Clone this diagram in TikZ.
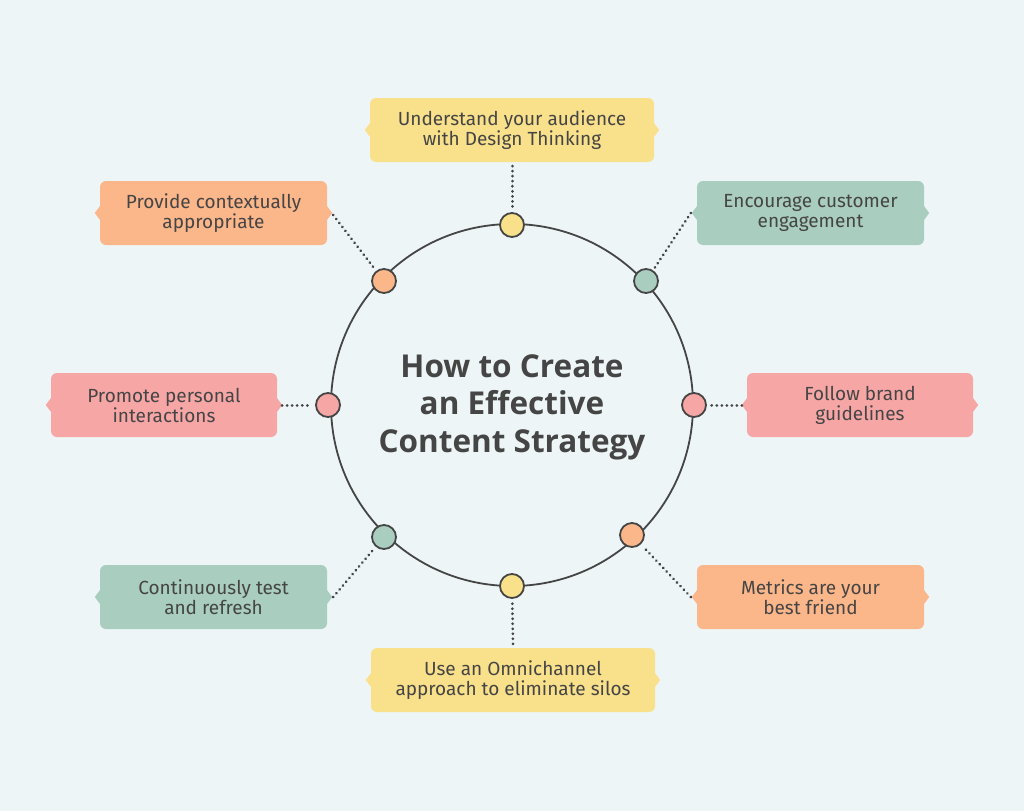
\documentclass[tikz,border=0pt]{standalone}
\usepackage{fontspec}
\setmainfont{Fira Sans}
\newfontfamily\titlefont{Open Sans}
\usetikzlibrary{calc}
\definecolor{bg}{HTML}{EDF5F6}
\definecolor{ink}{HTML}{454545}
\definecolor{cyel}{HTML}{F9E08B}
\definecolor{cora}{HTML}{FBB68A}
\definecolor{cgrn}{HTML}{A9CDBF}
\definecolor{cpnk}{HTML}{F7A6A6}
\tikzset{
  card/.style={fill=#1, rounded corners=6pt, minimum height=64pt, inner sep=0pt,
    align=center, text=ink, font=\fontsize{19}{20}\selectfont},
  dot/.style={circle, fill=#1, draw=ink, line width=1.8pt, minimum size=24pt, inner sep=0pt},
  link/.style={ink, line width=3pt, dash pattern=on 0.01pt off 5pt, line cap=round, shorten >=3pt},
}
\newcommand{\notches}[2]{%
  \fill[#2] ($(#1.west)+(1,-8)$) -- ++(-6,8) -- ++(6,8) -- cycle;
  \fill[#2] ($(#1.east)+(-1,-8)$) -- ++(6,8) -- ++(-6,8) -- cycle;}
\begin{document}
\begin{tikzpicture}[x=1pt,y=-1pt]
\fill[bg] (0,0) rectangle (1024,811);
\useasboundingbox (0,0) rectangle (1024,811);
% main circle
\node[circle, draw=ink, line width=1.8pt, minimum size=362pt, inner sep=0pt] (main) at (512,405) {};
\node[align=center, text=ink, font=\titlefont\bfseries\fontsize{31.5}{37.5}\selectfont] (title) at (512,407)
  {How to Create\\an Effective\\Content Strategy};
% cards
\node[card=cyel, minimum width=284pt] (t)  at (512,130) {Understand your audience\\with Design Thinking};
\node[card=cora, minimum width=227pt] (nw) at (213.5,213) {Provide contextually\\appropriate};
\node[card=cgrn, minimum width=227pt] (ne) at (810.5,213) {Encourage customer\\engagement};
\node[card=cpnk, minimum width=226pt] (w)  at (164,405) {Promote personal\\interactions};
\node[card=cpnk, minimum width=226pt] (e)  at (860,405) {Follow brand\\guidelines};
\node[card=cgrn, minimum width=227pt] (sw) at (213.5,597) {Continuously test\\and refresh};
\node[card=cora, minimum width=227pt] (se) at (810.5,597) {Metrics are your\\best friend};
\node[card=cyel, minimum width=284pt] (b)  at (513,680) {Use an Omnichannel\\approach to eliminate silos};
\notches{t}{cyel}\notches{nw}{cora}\notches{ne}{cgrn}\notches{w}{cpnk}
\notches{e}{cpnk}\notches{sw}{cgrn}\notches{se}{cora}\notches{b}{cyel}
% dots
\node[dot=cyel] (dt)  at (512,225) {};
\node[dot=cora] (dnw) at (384,281) {};
\node[dot=cgrn] (dne) at (646,281) {};
\node[dot=cpnk] (dw)  at (328,405) {};
\node[dot=cpnk] (de)  at (694,405) {};
\node[dot=cgrn] (dsw) at (384,537) {};
\node[dot=cora] (dse) at (632,535) {};
\node[dot=cyel] (db)  at (512,586) {};
% connectors
\coordinate (cnw) at ($(nw.east)+(6,2)$);
\coordinate (cne) at ($(ne.west)+(-6,0)$);
\coordinate (csw) at ($(sw.east)+(6,0)$);
\coordinate (cse) at ($(se.west)+(-6,0)$);
\draw[link] ($(t.south)+(0,4)$) -- (dt);
\draw[link] (cnw) -- (dnw);
\draw[link] (cne) -- (dne);
\draw[link] ($(w.east)+(5,0)$) -- (dw);
\draw[link] ($(e.west)+(-5,0)$) -- (de);
\draw[link] (csw) -- (dsw);
\draw[link] (cse) -- (dse);
\draw[link] ($(b.north)+(0,-4)$) -- (db);
\end{tikzpicture}
\end{document}
